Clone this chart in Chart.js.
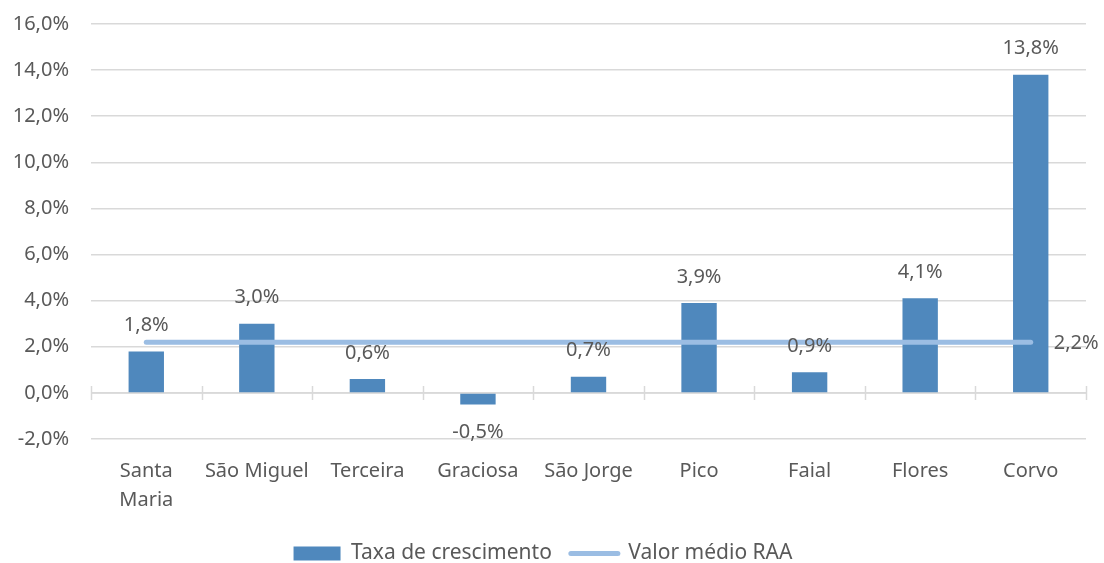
<!DOCTYPE html>
<html>
<head>
<meta charset="utf-8">
<script src="https://cdn.jsdelivr.net/npm/chart.js@4/dist/chart.umd.min.js"></script>
<style>
  html, body { margin:0; padding:0; background:#fff; }
  #wrap { width:1104px; height:563px; }
</style>
</head>
<body>
<div id="wrap"><canvas id="chart" width="1104" height="563"></canvas></div>
<script>
// data
const islands = [['Santa','Maria'],'São Miguel','Terceira','Graciosa','São Jorge','Pico','Faial','Flores','Corvo'];
const growth = [1.8, 3.0, 0.6, -0.5, 0.7, 3.9, 0.9, 4.1, 13.8];
const average = [2.2, 2.2, 2.2, 2.2, 2.2, 2.2, 2.2, 2.2, 2.2];
const yTicks = [-2, 0, 2, 4, 6, 8, 10, 12, 14, 16];

const fmt = v => v.toFixed(1).replace('.', ',') + '%';
const textColor = '#595959';
const fontFamily = '"Noto Sans", "Open Sans", sans-serif';

// zero axis line with category tick marks
const zeroAxis = {
  id: 'zeroAxis',
  beforeDatasetsDraw(chart){
    const {ctx, scales:{x, y}} = chart;
    const y0 = y.getPixelForValue(0);
    ctx.save();
    ctx.strokeStyle = '#d9d9d9';
    ctx.lineWidth = 1.5;
    ctx.beginPath();
    ctx.moveTo(x.left, y0); ctx.lineTo(x.right, y0);
    const step = (x.right - x.left) / islands.length;
    for(let i = 0; i <= islands.length; i++){
      const px = Math.round(x.left + i*step) + 0.5;
      ctx.moveTo(px, y0 - 7); ctx.lineTo(px, y0 + 7);
    }
    ctx.stroke();
    ctx.restore();
  }
};

// value labels
const valueLabels = {
  id: 'valueLabels',
  afterDatasetsDraw(chart){
    const {ctx} = chart;
    ctx.save();
    ctx.font = '20px ' + fontFamily;
    ctx.fillStyle = textColor;
    ctx.textBaseline = 'middle';
    const bars = chart.getDatasetMeta(0).data;
    ctx.textAlign = 'center';
    bars.forEach((b, i) => {
      const v = growth[i];
      const ty = v >= 0 ? b.y - 26 : b.y + 28;
      ctx.fillText(fmt(v), b.x, ty);
    });
    const pts = chart.getDatasetMeta(1).data;
    const last = pts[pts.length - 1];
    ctx.textAlign = 'left';
    ctx.fillText(fmt(average[average.length - 1]), last.x + 23, last.y + 1);
    ctx.restore();
  }
};

new Chart(document.getElementById('chart'), {
  type: 'bar',
  data: {
    labels: islands,
    datasets: [
      { type:'bar', label:'Taxa de crescimento', data:growth, backgroundColor:'#4f88bd',
        barPercentage:0.4, categoryPercentage:0.8, order:2 },
      { type:'line', label:'Valor médio RAA', data:average, borderColor:'#9bbde3', backgroundColor:'#9bbde3',
        borderWidth:5, borderCapStyle:'round', pointRadius:0, fill:false, order:1 }
    ]
  },
  options: {
    responsive:false,
    animation:false,
    layout:{ padding:{ top:24, right:18, left:0, bottom:-11 } },
    plugins:{
      legend:{
        position:'bottom',
        labels:{
          color:textColor,
          font:{ size:21, family:fontFamily },
          usePointStyle:true,
          pointStyleWidth:47,
          boxHeight:14,
          padding:19,
          generateLabels(chart){
            const items = Chart.defaults.plugins.legend.labels.generateLabels(chart);
            items.sort((a, b) => a.datasetIndex - b.datasetIndex);
            items[0].pointStyle = 'rect';
            items[0].lineWidth = 0;
            items[1].pointStyle = 'line';
            items[1].lineWidth = 5;
            items[1].lineCap = 'round';
            return items;
          }
        }
      },
      tooltip:{ enabled:false }
    },
    scales:{
      x:{
        grid:{ display:false },
        border:{ display:false },
        afterFit(axis){ axis.height = 85; axis.paddingLeft = 0; axis.paddingRight = 0; },
        ticks:{ color:textColor, font:{ size:20, family:fontFamily, lineHeight:1.45 }, padding:10, maxRotation:0, autoSkip:false }
      },
      y:{
        min:-2, max:16,
        afterBuildTicks(axis){ axis.ticks = yTicks.map(v => ({ value:v })); },
        afterFit(axis){ axis.width = 91; axis.paddingTop = 0; axis.paddingBottom = 0; },
        grid:{ color:'#d9d9d9', lineWidth:1.5, drawTicks:false },
        border:{ display:false },
        ticks:{ color:textColor, font:{ size:20, family:fontFamily }, padding:22, callback:v => fmt(v) }
      }
    }
  },
  plugins:[zeroAxis, valueLabels]
});
</script>
</body>
</html>
